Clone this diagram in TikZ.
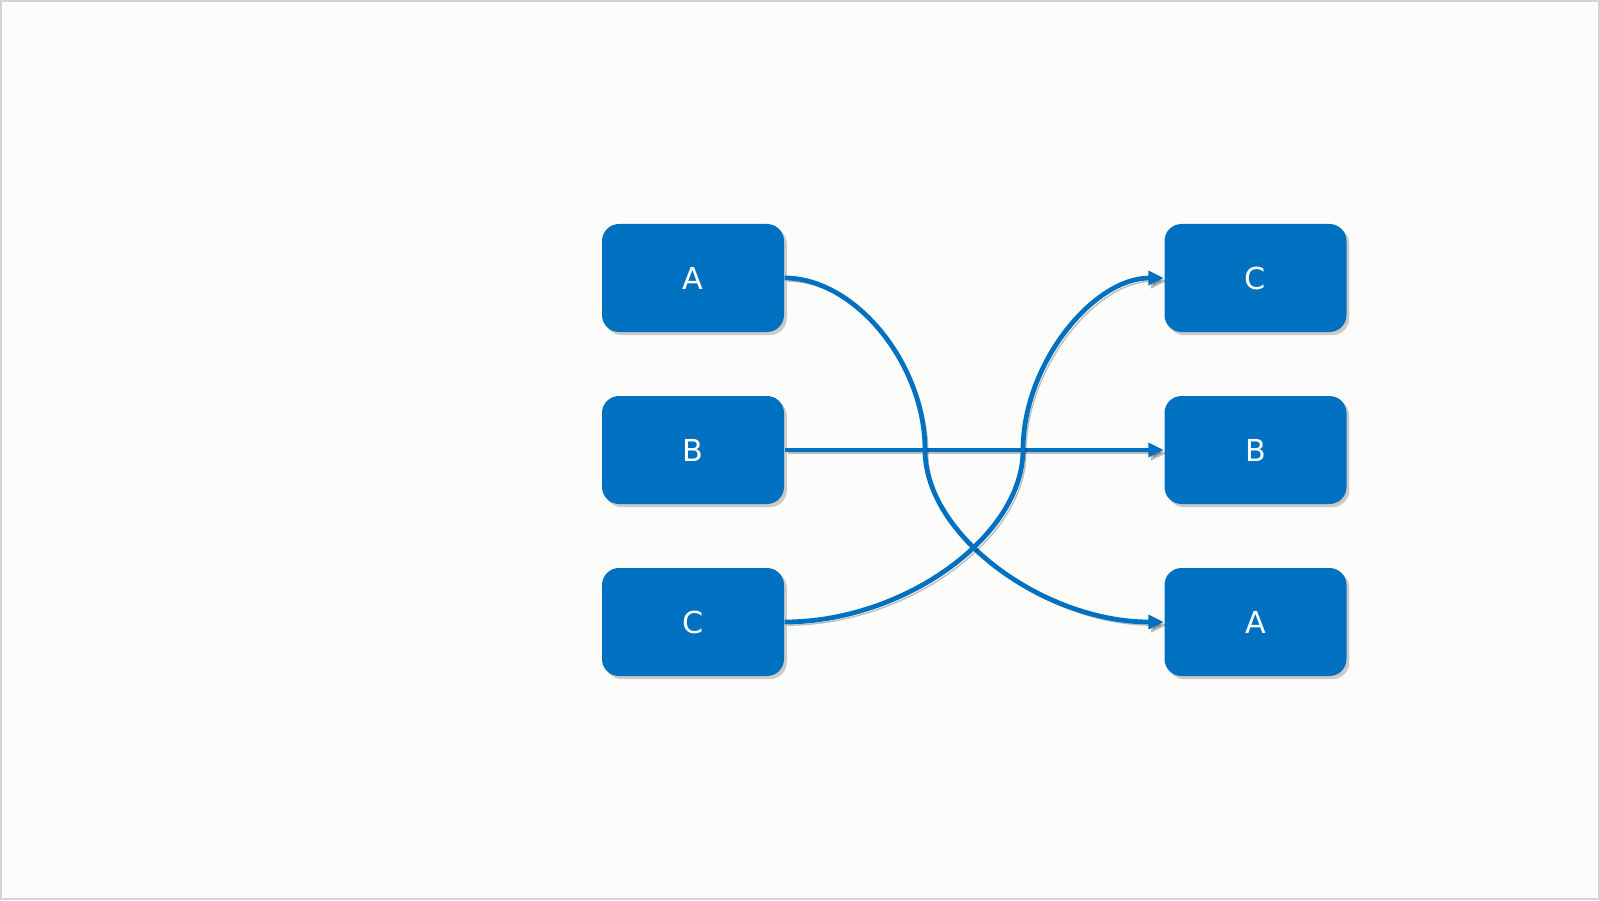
\documentclass[tikz,border=0pt]{standalone}
\usepackage{fontspec}
\setmainfont{DejaVu Sans}
\usepackage{tikz}
\usetikzlibrary{arrows.meta,shadows}
\usepackage{xcolor}
\definecolor{boxblue}{HTML}{0070C0}
\definecolor{pagebg}{HTML}{FCFDFA}
\definecolor{pageline}{HTML}{D4D4D4}

\begin{document}
\begin{tikzpicture}[
    card/.style={fill=boxblue, rounded corners=0.17cm, minimum width=1.82cm,
        minimum height=1.08cm, inner sep=0pt, text=white,
        font=\fontsize{8.6}{10}\selectfont,
        drop shadow={shadow xshift=0.8pt, shadow yshift=-0.9pt, opacity=0.4}},
    link/.style={draw=boxblue, line width=1.35pt, -{Triangle[length=4.4pt,width=3.9pt]},
        preaction={draw=black, opacity=0.25, transform canvas={xshift=0.8pt,yshift=-0.9pt}}}
]
    % Page
    \useasboundingbox (0,0) rectangle (16,9);
    \fill[pagebg] (0,0) rectangle (16,9);
    \draw[pageline, line width=0.6pt] (0.01,0.01) rectangle (15.99,8.99);

    % Left column
    \node[card] (la) at (6.93, 6.22) {A};
    \node[card] (lb) at (6.93, 4.50) {B};
    \node[card] (lc) at (6.93, 2.78) {C};

    % Right column
    \node[card] (rc) at (12.555, 6.22) {C};
    \node[card] (rb) at (12.555, 4.50) {B};
    \node[card] (ra) at (12.555, 2.78) {A};

    % Bends
    \coordinate (bendA) at (9.25, 4.50);
    \coordinate (bendC) at (10.23, 4.50);

    % Connectors
    \draw[link] (lb.east) -- (rb.west);
    \draw[link] (la.east) .. controls +(0.705,0) and +(0,0.86) .. (bendA)
        .. controls +(0,-0.86) and +(-1.195,0) .. (ra.west);
    \draw[link] (lc.east) .. controls +(1.195,0) and +(0,-0.86) .. (bendC)
        .. controls +(0,0.86) and +(-0.705,0) .. (rc.west);
\end{tikzpicture}
\end{document}
